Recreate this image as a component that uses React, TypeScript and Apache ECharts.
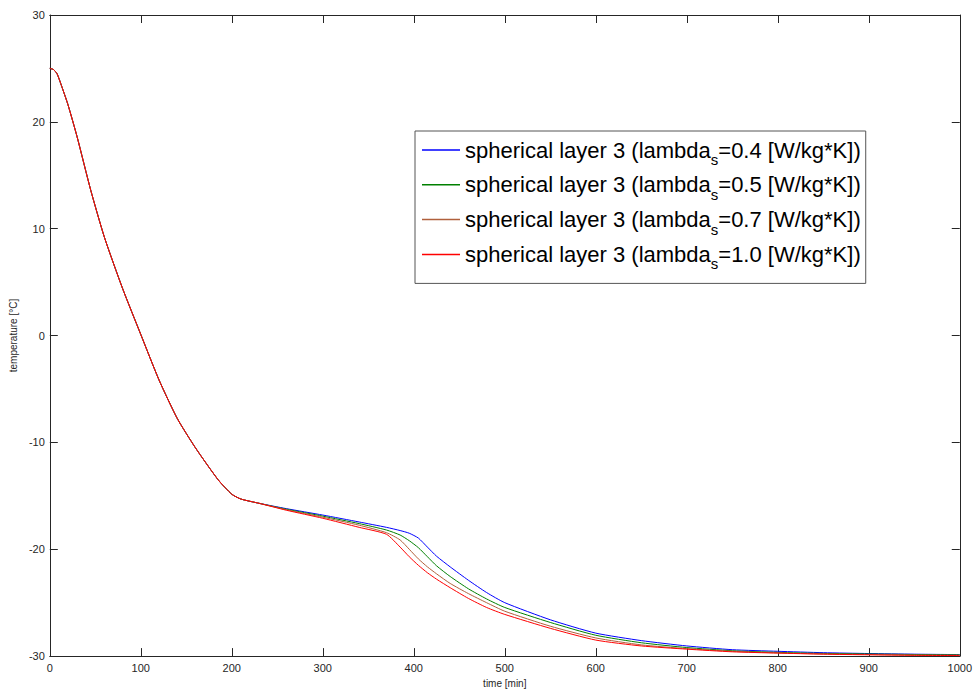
import React, { useEffect, useRef } from "react";
import * as echarts from "echarts";

const times = [0, 4, 8, 14, 20, 30, 45, 60, 80, 100, 120, 140, 160, 185, 200, 210, 230, 260, 300, 340, 370, 385, 395, 405, 415, 425, 440, 460, 480, 500, 550, 600, 650, 700, 750, 800, 850, 900, 950, 1000];

const common = [25, 24.9, 24.5, 23.1, 21.6, 18.6, 13.6, 9.2, 4.4, 0.1, -4.15, -7.75, -10.5, -13.5, -14.85, -15.3, -15.7];

const blueTail = [-16.2, -16.8, -17.45, -17.95, -18.25, -18.5, -18.95, -19.8, -20.65, -21.65, -22.9, -24.05, -25.0, -26.6, -27.85, -28.55, -29.05, -29.4, -29.55, -29.68, -29.76, -29.82, -29.86];
const greenTail = [-16.25, -16.9, -17.6, -18.2, -18.67, -19.2, -19.85, -20.7, -21.55, -22.55, -23.7, -24.65, -25.45, -26.85, -28.05, -28.75, -29.2, -29.5, -29.65, -29.75, -29.8, -29.85, -29.88];
const brownTail = [-16.3, -17.0, -17.75, -18.45, -19.13, -20.0, -20.9, -21.65, -22.3, -23.2, -24.15, -25.0, -25.8, -27.2, -28.3, -28.95, -29.3, -29.55, -29.7, -29.8, -29.85, -29.9, -29.92];
const redTail = [-16.35, -17.1, -17.95, -18.6, -19.8, -20.7, -21.5, -22.2, -22.8, -23.6, -24.6, -25.45, -26.1, -27.4, -28.5, -29.05, -29.35, -29.6, -29.72, -29.82, -29.88, -29.93, -29.95];

const lambdas = ["0.4", "0.5", "0.7", "1.0"];
const colors = ["#0000ff", "#008000", "#b0603c", "#ff0000"];
const tails = [blueTail, greenTail, brownTail, redTail];

const xTicks = { min: 0, max: 1000, interval: 100 };
const yTicks = { min: -30, max: 30, interval: 10 };

export default function App() {
  const ref = useRef<HTMLDivElement>(null);
  useEffect(() => {
    document.body.style.margin = "0";
    if (!ref.current) return;
    const chart = echarts.init(ref.current, undefined, { renderer: "svg" });
    const font = "'Liberation Sans', Arial, sans-serif";
    const axisColor = "#262626";
    const names = lambdas.map((l) => `spherical layer 3 (lambda_s=${l} [W/kg*K])`);
    const series = lambdas.map((l, i) => {
      const vals = [...common, ...tails[i]];
      return {
        name: names[i],
        type: "line",
        data: times.map((t, k) => [t, vals[k]]),
        showSymbol: false,
        smooth: 0.2,
        lineStyle: { color: colors[i], width: 1 },
        itemStyle: { color: colors[i] },
        z: 2 + i,
      };
    });
    const baseX = {
      type: "value",
      ...xTicks,
      splitLine: { show: false },
      axisLine: { show: true, onZero: false, lineStyle: { color: axisColor, width: 1 } },
      axisTick: { show: true, inside: true, length: 8, lineStyle: { color: axisColor } },
    };
    const baseY = {
      type: "value",
      ...yTicks,
      splitLine: { show: false },
      axisLine: { show: true, onZero: false, lineStyle: { color: axisColor, width: 1 } },
      axisTick: { show: true, inside: true, length: 8, lineStyle: { color: axisColor } },
    };
    chart.setOption({
      animation: false,
      backgroundColor: "#ffffff",
      grid: { left: 49, right: 14, top: 15, bottom: 35, containLabel: false },
      xAxis: [
        {
          ...baseX,
          position: "bottom",
          name: "time [min]",
          nameLocation: "middle",
          nameGap: 21,
          nameTextStyle: { fontFamily: font, fontSize: 10, color: axisColor },
          axisLabel: { fontFamily: font, fontSize: 11, color: axisColor, margin: 6, formatter: (v: number) => String(v) },
        },
        { ...baseX, position: "top", axisLabel: { show: false } },
      ],
      yAxis: [
        {
          ...baseY,
          position: "left",
          name: "temperature [°C]",
          nameLocation: "middle",
          nameGap: 27,
          nameTextStyle: { fontFamily: font, fontSize: 10, color: axisColor },
          axisLabel: { fontFamily: font, fontSize: 11, color: axisColor, margin: 5, formatter: (v: number) => String(v) },
        },
        { ...baseY, position: "right", axisLabel: { show: false } },
      ],
      legend: {
        orient: "vertical",
        left: 415,
        top: 131,
        backgroundColor: "#ffffff",
        borderColor: "#555555",
        borderWidth: 1,
        padding: [8, 5, 12, 7],
        itemGap: 6.8,
        itemWidth: 38,
        itemHeight: 1.5,
        icon: "rect",
        data: names,
        formatter: (name: string) => {
          const i = names.indexOf(name);
          return `{m|spherical layer 3 (lambda}{s|s}{m|=${lambdas[i]} [W/kg*K])}`;
        },
        textStyle: {
          fontFamily: font,
          fontSize: 22,
          color: "#000",
          rich: {
            m: { fontFamily: font, fontSize: 22, lineHeight: 28, verticalAlign: "middle", color: "#000" },
            s: { fontFamily: font, fontSize: 15, verticalAlign: "top", padding: [19, 0, 0, 0], color: "#000" },
          },
        },
      },
      series,
    });
    return () => chart.dispose();
  }, []);
  return <div ref={ref} style={{ width: 975, height: 693 }} />;
}
